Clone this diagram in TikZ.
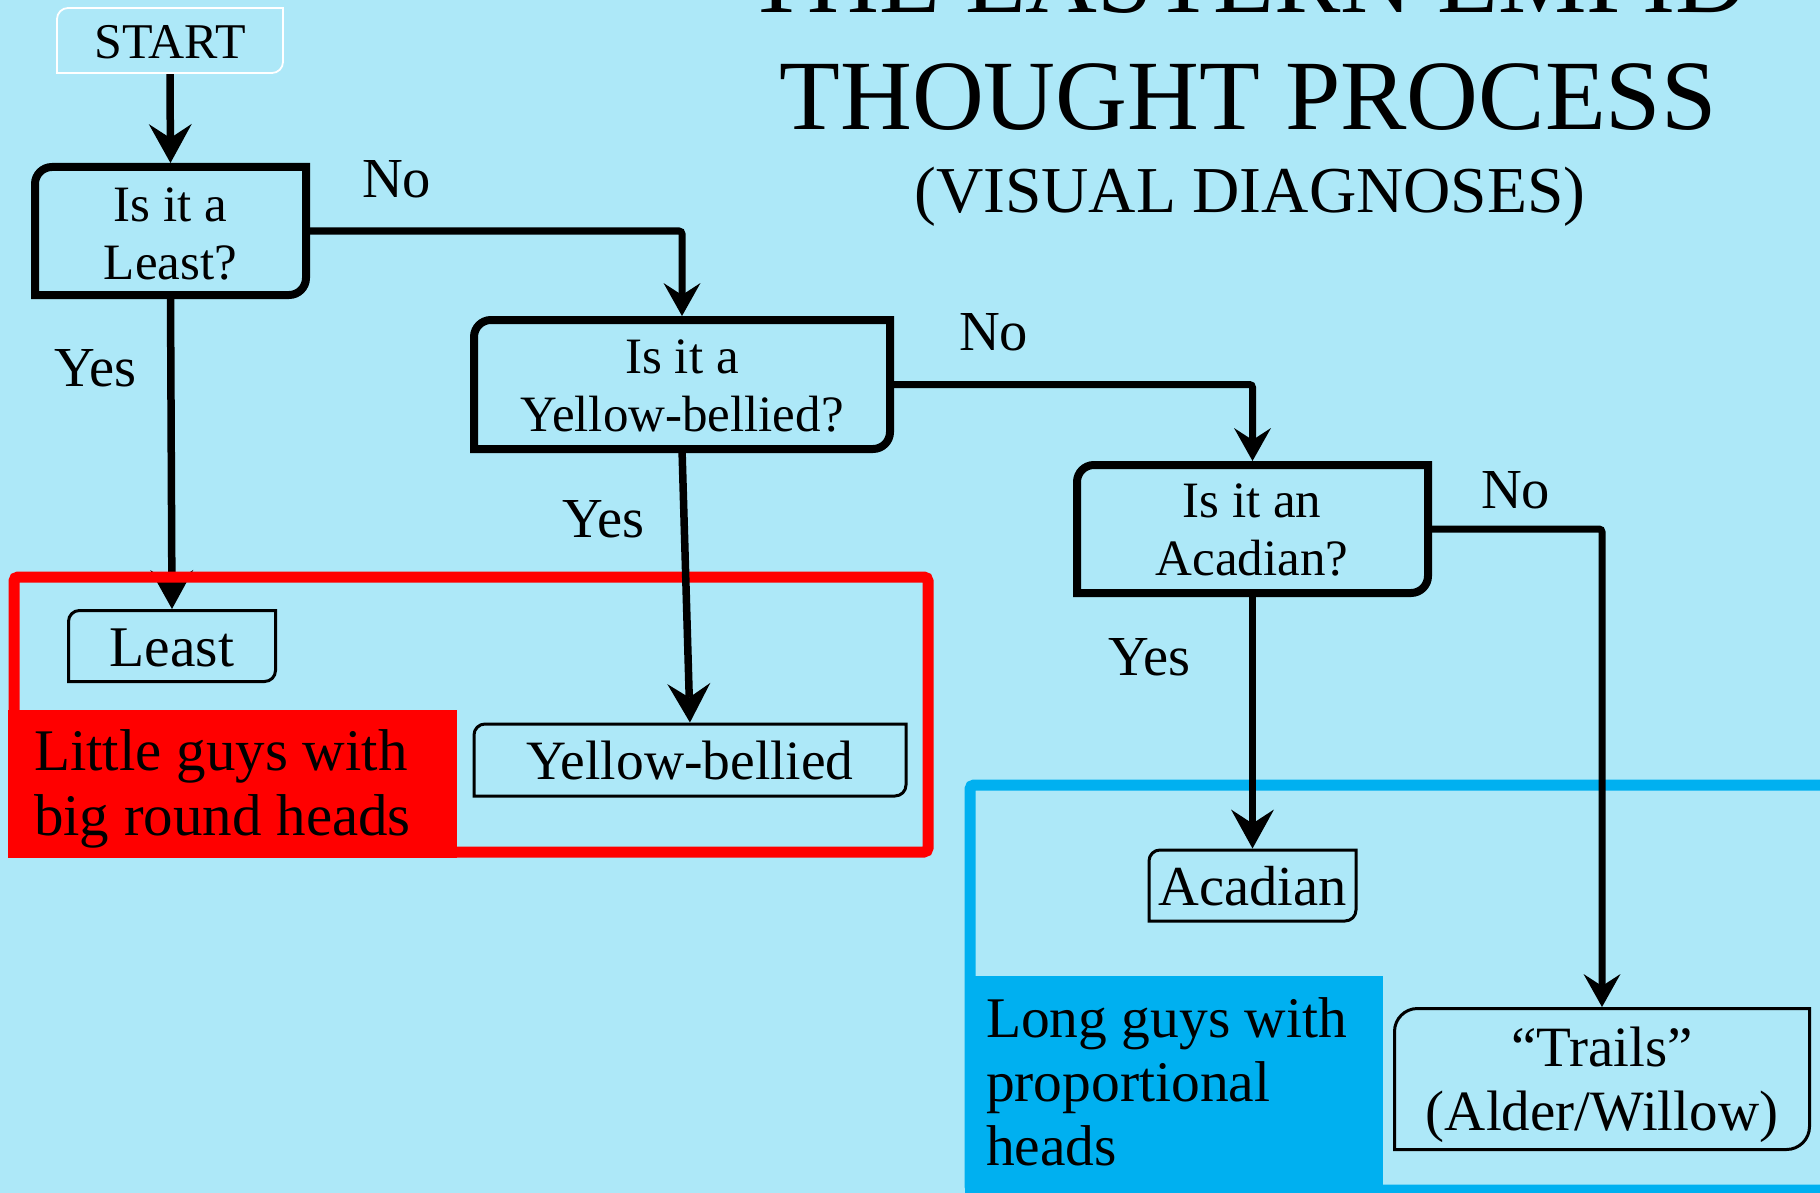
\documentclass[tikz,border=0pt]{standalone}
\usepackage{fontspec}
\setmainfont{Liberation Serif}
\usetikzlibrary{arrows.meta,calc}
\definecolor{bg}{RGB}{173,232,248}
\definecolor{grpblue}{RGB}{0,176,240}
\definecolor{grpred}{RGB}{255,0,0}
% box with rounded top-left and bottom-right corners
\newcommand\rdbox[3][]{\draw[#1] ([yshift=-#3]#2.north west) arc[start angle=180,end angle=90,radius=#3] -- (#2.north east) -- ([yshift=#3]#2.south east) arc[start angle=0,end angle=-90,radius=#3] -- (#2.south west) -- cycle;}
\begin{document}
\begin{tikzpicture}[x=1pt,y=1pt,
  every node/.style={inner sep=0pt,outer sep=0pt},
  frame/.style={rectangle,inner sep=0pt},
  conn/.style={line width=7.5pt,-{Stealth[length=39pt,width=43pt,inset=14pt,line width=0pt]}},
  nconn/.style={line width=7pt,rounded corners=3pt,-{Stealth[length=33pt,width=37pt,inset=12pt,line width=0pt]}},
  qtxt/.style={font=\fontsize{51}{58}\selectfont,align=center},
  rtxt/.style={font=\fontsize{57}{64}\selectfont},
  yn/.style={font=\fontsize{56.5}{62}\selectfont,anchor=base west},
  grptxt/.style={font=\fontsize{59}{65}\selectfont,align=left,anchor=west}
]
\useasboundingbox (0,0) rectangle (1820,-1193);
\clip (0,0) rectangle (1820,-1193);
\fill[bg] (0,0) rectangle (1820,-1193);

% geometry of the boxes
\node[frame,minimum width=226pt,minimum height=65pt,font=\fontsize{50}{56}\selectfont,text height=50pt,text depth=13pt] (start) at (170,-40.5) {START};
\node[frame,minimum width=271pt,minimum height=128pt] (q1) at (170.5,-231) {};
\node[frame,minimum width=416pt,minimum height=129pt] (q2) at (682,-384.5) {};
\node[frame,minimum width=351pt,minimum height=128pt] (q3) at (1252.5,-529) {};
\node[frame,minimum width=207pt,minimum height=71pt,font=\fontsize{57.5}{64}\selectfont,text height=55pt,text depth=15pt] (least) at (172,-646) {Least};
\node[frame,minimum width=432pt,minimum height=72pt,font=\fontsize{55.5}{62}\selectfont,text height=54pt,text depth=16pt] (yb) at (690,-760) {Yellow-bellied};
\node[frame,minimum width=207pt,minimum height=71pt,font=\fontsize{56.5}{63}\selectfont,text height=54pt,text depth=15pt] (acad) at (1252.5,-885.5) {Acadian};
\node[frame,minimum width=415pt,minimum height=141pt] (trails) at (1602,-1079) {};

% Least arrow lies under the red frame
\draw[conn,shorten >=1.5pt] (q1.south) -- (least.north);

% red group
\node[frame,draw=grpred,line width=11pt,rounded corners=4pt,minimum width=914pt,minimum height=275pt] (redgrp) at (471,-714.5) {};
\node[frame,fill=grpred,minimum width=449pt,minimum height=148pt] (redlab) at (232.5,-784) {};
\node[grptxt] (redtxt) at (34,-789.5) {\strut Little guys with\\\strut big round heads};

% blue group
\node[frame,draw=grpblue,line width=11pt,rounded corners=4pt,minimum width=930pt,minimum height=405pt] (bluegrp) at (1435,-987.5) {};
\node[frame,fill=grpblue,minimum width=418pt,minimum height=224pt] (bluelab) at (1174,-1088) {};
\node[grptxt,font=\fontsize{57.5}{64}\selectfont] (bluetxt) at (986,-1088.2) {\strut Long guys with\\\strut proportional\\\strut heads};

% connectors
\draw[conn,shorten >=4pt] (start.south) -- (q1.north);
\draw[nconn,shorten >=4pt] (q1.east) -| (q2.north);
\draw[conn,shorten >=1.5pt] (q2.south) -- (yb.north);
\draw[nconn,shorten >=4pt] (q2.east) -| (q3.north);
\draw[conn,shorten >=1.5pt] (q3.south) -- (acad.north);
\draw[nconn,shorten >=1.5pt] (q3.east) -| (trails.north);

% outlines
\rdbox[white,line width=1.8pt]{start}{11pt}
\rdbox[line width=8pt]{q1}{17pt}
\rdbox[line width=8pt]{q2}{17pt}
\rdbox[line width=8pt]{q3}{17pt}
\rdbox[line width=3pt]{least}{11pt}
\rdbox[line width=3pt]{yb}{11pt}
\rdbox[line width=3pt]{acad}{11pt}
\rdbox[line width=3pt]{trails}{23pt}

% texts in the boxes
\node[qtxt] (q1txt) at (170.5,-238.8) {\strut Is it a\\\strut Least?};
\node[qtxt] (q2txt) at (682,-390.4) {\strut Is it a\\\strut Yellow-bellied?};
\node[qtxt] (q3txt) at (1252,-534.4) {\strut Is it an\\\strut Acadian?};
\node[rtxt,align=center] (trtxt) at (1602,-1085.2) {\strut “Trails”\\\strut (Alder/Willow)};

% yes / no labels
\node[yn] (no1) at (362,-197) {No};
\node[yn] (yes1) at (54,-386) {Yes};
\node[yn] (no2) at (959,-350) {No};
\node[yn] (yes2) at (562,-537) {Yes};
\node[yn] (no3) at (1481,-508) {No};
\node[yn] (yes3) at (1108,-675) {Yes};

% title
\node[font=\fontsize{99.5}{110}\selectfont,anchor=base] (title1) at (1247,-13) {THE EASTERN EMPID};
\node[font=\fontsize{99.5}{110}\selectfont,anchor=base] (title2) at (1248,-130) {THOUGHT PROCESS};
\node[font=\fontsize{65.5}{75}\selectfont,anchor=base] (title3) at (1250,-213) {(VISUAL DIAGNOSES)};
\end{tikzpicture}
\end{document}
